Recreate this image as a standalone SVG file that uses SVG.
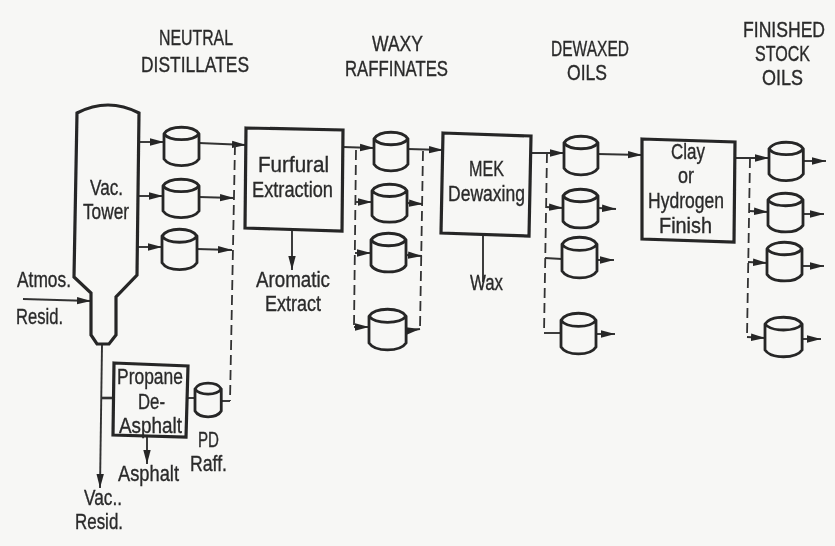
<svg xmlns="http://www.w3.org/2000/svg" width="835" height="546" viewBox="0 0 835 546">
<style>
.bg{fill:#f7f7f5}
.box{fill:none;stroke:#262626;stroke-width:3.2;stroke-linejoin:miter}
.tank{fill:none;stroke:#262626;stroke-width:2.8;vector-effect:non-scaling-stroke;stroke-linejoin:round}
.c{fill:none;stroke:#333;stroke-width:1.9}
.a{marker-end:url(#ah)}
.d{fill:none;stroke:#333;stroke-width:1.8;stroke-dasharray:10 5}
text{font-family:"Liberation Sans",Arial,sans-serif;font-size:22px;fill:#2a2a2a;stroke:#2a2a2a;stroke-width:0.35}
</style>
<defs>
<marker id="ah" markerUnits="userSpaceOnUse" markerWidth="15" markerHeight="9" refX="14" refY="4.5" orient="auto"><path d="M0,0.8 L14,4.5 L0,8.2 Z" fill="#262626"/></marker>
<path id="tank" class="tank" d="M0,7 C6,-2 29,-2 35,7 L35,33 C29,42 6,42 0,33 Z M0,7 C6,15 29,15 35,7"/>
<filter id="soft" x="0" y="0" width="100%" height="100%"><feGaussianBlur stdDeviation="0.35"/></filter>
</defs>
<rect class="bg" width="835" height="546"/>
<g filter="url(#soft)">
<g id="connectors">
<path class="c a" d="M139,142 L164,142"/>
<path class="c a" d="M139,196 L163,196"/>
<path class="c a" d="M138,247 L162,247"/>
<path class="c a" d="M199,143 L246,145"/>
<path class="c a" d="M199,197 L234,198"/>
<path class="c a" d="M197,249 L232,250"/>
<path class="d" d="M235,145 L230,401"/>
<path class="c" d="M221,401 L230,401"/>
<path class="c" d="M188,398 L195,398"/>
<path class="c a" d="M102,345 L100,488"/>
<path class="c" style="stroke-width:2.6" d="M101,398 L114,398"/>
<path class="c a" d="M147,437 L147,464"/>
<path class="c a" d="M23,299 L91,301"/>
<path class="c a" d="M292,231 L292,270"/>
<path class="c a" d="M343,147 L374,148"/>
<path class="d" d="M356,150 L354,327"/>
<path class="c a" d="M356,202 L372,202"/>
<path class="c a" d="M355,253 L371,253"/>
<path class="c a" d="M354,327 L369,327"/>
<path class="c a" d="M408,149 L443,150"/>
<path class="d" d="M423,151 L420,329"/>
<path class="c a" d="M407,203 L423,204"/>
<path class="c a" d="M406,255 L422,256"/>
<path class="c a" d="M406,331 L420,329"/>
<path class="c" d="M483,236 L483,282"/>
<path class="c a" d="M531,153 L564,153"/>
<path class="d" d="M547,153 L544,333"/>
<path class="c a" d="M546,207 L563,208"/>
<path class="c" d="M545,258 L562,259"/>
<path class="c" d="M544,333 L561,333"/>
<path class="c a" d="M598,154 L642,155"/>
<path class="c a" d="M598,208 L616,209"/>
<path class="c a" d="M597,260 L614,260"/>
<path class="c a" d="M596,334 L615,334"/>
<path class="c a" d="M735,158 L769,158"/>
<path class="d" d="M750,158 L747,337"/>
<path class="c a" d="M749,211 L768,212"/>
<path class="c a" d="M748,262 L767,263"/>
<path class="c a" d="M747,337 L765,338"/>
<path class="c a" d="M803,161 L826,161"/>
<path class="c a" d="M803,214 L824,214"/>
<path class="c a" d="M802,266 L824,266"/>
<path class="c a" d="M802,339 L821,339"/>
</g>
<g id="tower"><path class="box" d="M77,113 Q108,97 139,113 L137,275 L116,297 L116,335 L109,344 L97,344 L91,335 L91,293 L74,277 Z"/>
<text x="90" y="195" textLength="33" lengthAdjust="spacingAndGlyphs">Vac.</text>
<text x="83" y="219" textLength="46" lengthAdjust="spacingAndGlyphs">Tower</text></g>
<g id="atmos-resid"><text x="17" y="287" textLength="54" lengthAdjust="spacingAndGlyphs">Atmos.</text>
<text x="16" y="324" textLength="47" lengthAdjust="spacingAndGlyphs">Resid.</text></g>
<g id="neutral-distillates"><text x="159" y="45" textLength="74" lengthAdjust="spacingAndGlyphs">NEUTRAL</text>
<text x="141" y="72" textLength="108" lengthAdjust="spacingAndGlyphs">DISTILLATES</text></g>
<g id="waxy-raffinates"><text x="372" y="51" textLength="51" lengthAdjust="spacingAndGlyphs">WAXY</text>
<text x="345" y="76" textLength="103" lengthAdjust="spacingAndGlyphs">RAFFINATES</text></g>
<g id="dewaxed-oils"><text x="551" y="56" textLength="78" lengthAdjust="spacingAndGlyphs">DEWAXED</text>
<text x="567" y="80" textLength="40" lengthAdjust="spacingAndGlyphs">OILS</text></g>
<g id="finished-stock-oils"><text transform="translate(743,37) scale(0.8,1)">FINISHED</text>
<text x="755" y="61" textLength="55" lengthAdjust="spacingAndGlyphs">STOCK</text>
<text x="762" y="85" textLength="41" lengthAdjust="spacingAndGlyphs">OILS</text></g>
<g id="tank-n1"><use href="#tank" transform="translate(164,127) scale(1,0.97)"/></g>
<g id="tank-n2"><use href="#tank" transform="translate(163,179) scale(1.03,0.97)"/></g>
<g id="tank-n3"><use href="#tank" transform="translate(162,229) scale(1,1.02)"/></g>
<g id="furfural"><path class="box" d="M246,128 L343,130 L342,231 L245,228 Z"/>
<text x="258" y="172" textLength="71" lengthAdjust="spacingAndGlyphs">Furfural</text>
<text x="252" y="197" textLength="81" lengthAdjust="spacingAndGlyphs">Extraction</text></g>
<g id="aromatic-extract"><text x="256" y="287" textLength="74" lengthAdjust="spacingAndGlyphs">Aromatic</text>
<text x="265" y="311" textLength="56" lengthAdjust="spacingAndGlyphs">Extract</text></g>
<g id="tank-r1"><use href="#tank" transform="translate(374,132) scale(0.97,0.98)"/></g>
<g id="tank-r2"><use href="#tank" transform="translate(372,184) scale(1,0.96)"/></g>
<g id="tank-r3"><use href="#tank" transform="translate(371,233) scale(1,0.98)"/></g>
<g id="tank-r4"><use href="#tank" transform="translate(369,309) scale(1.06,1.03)"/></g>
<g id="mek"><path class="box" d="M443,133 L531,136 L529,236 L441,233 Z"/>
<text x="469" y="176" textLength="35" lengthAdjust="spacingAndGlyphs">MEK</text>
<text x="448" y="201" textLength="77" lengthAdjust="spacingAndGlyphs">Dewaxing</text></g>
<g id="wax"><text x="470" y="290" textLength="33" lengthAdjust="spacingAndGlyphs">Wax</text></g>
<g id="tank-d1"><use href="#tank" transform="translate(564,136) scale(0.97,0.98)"/></g>
<g id="tank-d2"><use href="#tank" transform="translate(563,189) scale(1,0.98)"/></g>
<g id="tank-d3"><use href="#tank" transform="translate(562,237) scale(1,1.03)"/></g>
<g id="tank-d4"><use href="#tank" transform="translate(561,313) scale(1,1.03)"/></g>
<g id="clay"><path class="box" d="M642,139 L735,142 L734,242 L642,239 Z"/>
<text x="671" y="159" textLength="34" lengthAdjust="spacingAndGlyphs">Clay</text>
<text x="678" y="183" textLength="16" lengthAdjust="spacingAndGlyphs">or</text>
<text x="648" y="208" textLength="76" lengthAdjust="spacingAndGlyphs">Hydrogen</text>
<text x="659" y="233" textLength="53" lengthAdjust="spacingAndGlyphs">Finish</text></g>
<g id="tank-f1"><use href="#tank" transform="translate(769,142) scale(0.98,0.97)"/></g>
<g id="tank-f2"><use href="#tank" transform="translate(768,193) scale(1,0.98)"/></g>
<g id="tank-f3"><use href="#tank" transform="translate(767,242) scale(1,0.98)"/></g>
<g id="tank-f4"><use href="#tank" transform="translate(765,317) scale(1.06,1)"/></g>
<g id="propane"><path class="box" d="M114,363 L188,366 L186,437 L113,435 Z"/>
<text x="117" y="384" textLength="66" lengthAdjust="spacingAndGlyphs">Propane</text>
<text x="138" y="409" textLength="27" lengthAdjust="spacingAndGlyphs">De-</text>
<text x="119" y="433" textLength="63" lengthAdjust="spacingAndGlyphs">Asphalt</text></g>
<g id="asphalt"><text x="118" y="481" textLength="61" lengthAdjust="spacingAndGlyphs">Asphalt</text></g>
<g id="tank-pd"><use href="#tank" transform="translate(195,383) scale(0.75,0.85)"/></g>
<g id="pd-raff"><text x="198" y="447" textLength="21" lengthAdjust="spacingAndGlyphs">PD</text>
<text x="190" y="471" textLength="37" lengthAdjust="spacingAndGlyphs">Raff.</text></g>
<g id="vac-resid"><text x="84" y="505" textLength="38" lengthAdjust="spacingAndGlyphs">Vac..</text>
<text x="75" y="529" textLength="48" lengthAdjust="spacingAndGlyphs">Resid.</text></g>
</g>
</svg>
